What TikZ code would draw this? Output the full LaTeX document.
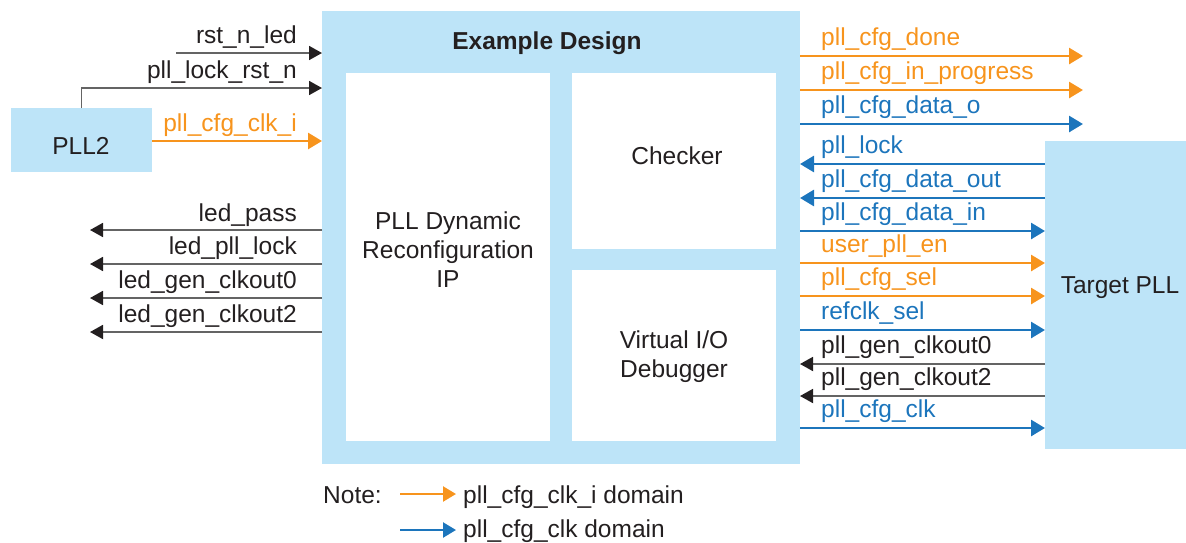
\documentclass[tikz,border=0pt]{standalone}
\usepackage{fontspec}
\setmainfont{Liberation Sans}
\usetikzlibrary{arrows.meta}

\definecolor{boxblue}{RGB}{189,228,248}
\definecolor{sigorange}{RGB}{247,148,29}
\definecolor{sigblue}{RGB}{28,117,188}
\definecolor{sigblack}{RGB}{35,31,32}
\definecolor{wiregray}{RGB}{100,100,100}

\begin{document}
\begin{tikzpicture}[x=1pt,y=-1pt,
  font=\fontsize{24.5}{29}\selectfont,
  box/.style={fill=boxblue, draw=none, inner sep=0pt, outer sep=0pt, anchor=north west},
  innerbox/.style={fill=white, draw=none, inner sep=0pt, outer sep=0pt, anchor=north west},
  txt/.style={inner sep=0pt, text=sigblack},
  lbl/.style={inner sep=0pt},
  blk/.style={draw=wiregray, line width=1.8pt, -{Triangle[length=13pt,width=14pt,color=sigblack]}},
  org/.style={draw=sigorange, line width=2.8pt, -{Triangle[length=14pt,width=16pt]}},
  blu/.style={draw=sigblue, line width=2.8pt, -{Triangle[length=14pt,width=16pt]}},
  keyorg/.style={draw=sigorange, line width=2.3pt, -{Triangle[length=13pt,width=15pt]}},
  keyblu/.style={draw=sigblue, line width=2.3pt, -{Triangle[length=13pt,width=15pt]}},
]
\useasboundingbox (0,0) rectangle (1186,542);

% blocks
\node[box, minimum width=478pt, minimum height=453pt] (ed) at (322,11) {};
\node[innerbox, minimum width=204pt, minimum height=368pt] (pdr) at (346,73) {};
\node[innerbox, minimum width=204pt, minimum height=176pt] (chk) at (572,73) {};
\node[innerbox, minimum width=204pt, minimum height=171pt] (vio) at (572,270) {};
\node[box, minimum width=141pt, minimum height=64pt] (pll2) at (11,108) {};
\node[box, minimum width=141pt, minimum height=308pt] (tpll) at (1045,141) {};

% block titles
\node[txt, anchor=base] (edt) at (547,49) {\bfseries Example Design};
\node[txt, anchor=base] (pdr1) at (448,229) {PLL Dynamic};
\node[txt, anchor=base] (pdr2) at (448,258) {Reconfiguration};
\node[txt, anchor=base] (pdr3) at (448,287) {IP};
\node[txt, anchor=base] (chkt) at (677,164) {Checker};
\node[txt, anchor=base] (vio1) at (674,348) {Virtual I/O};
\node[txt, anchor=base] (vio2) at (674,377) {Debugger};
\node[txt, anchor=base] (pll2t) at (81,154) {PLL2};
\node[txt, anchor=base] (tpllt) at (1120,293) {Target PLL};

% inputs on the left
\coordinate (rstsrc) at (176,53);
\draw[blk] (rstsrc) -- (rstsrc -| ed.west);
\node[lbl, anchor=base east, text=sigblack] (l1) at (297,43) {rst\_n\_led};

\coordinate (lockrow) at (0,88);
\draw[blk] (pll2.north) |- (lockrow -| ed.west);
\node[lbl, anchor=base east, text=sigblack] (l2) at (297,78) {pll\_lock\_rst\_n};

\coordinate (clkrow) at (0,141);
\draw[org] (clkrow -| pll2.east) -- (clkrow -| ed.west);
\node[lbl, anchor=base east, text=sigorange] (l3) at (297,131) {pll\_cfg\_clk\_i};

% LED outputs on the left
\coordinate (ledA) at (90,230);
\coordinate (ledB) at (90,264);
\coordinate (ledC) at (90,298);
\coordinate (ledD) at (90,332);
\draw[blk] (ledA -| ed.west) -- (ledA);
\draw[blk] (ledB -| ed.west) -- (ledB);
\draw[blk] (ledC -| ed.west) -- (ledC);
\draw[blk] (ledD -| ed.west) -- (ledD);
\node[lbl, anchor=base east, text=sigblack] (l4) at (297,221) {led\_pass};
\node[lbl, anchor=base east, text=sigblack] (l5) at (297,254) {led\_pll\_lock};
\node[lbl, anchor=base east, text=sigblack] (l6) at (297,288) {led\_gen\_clkout0};
\node[lbl, anchor=base east, text=sigblack] (l7) at (297,322) {led\_gen\_clkout2};

% status outputs on the right
\coordinate (outA) at (1083,56);
\coordinate (outB) at (1083,90);
\coordinate (outC) at (1083,124);
\draw[org] (outA -| ed.east) -- (outA);
\draw[org] (outB -| ed.east) -- (outB);
\draw[blu] (outC -| ed.east) -- (outC);
\node[lbl, anchor=base west, text=sigorange] (r1) at (821,45) {pll\_cfg\_done};
\node[lbl, anchor=base west, text=sigorange] (r2) at (821,79) {pll\_cfg\_in\_progress};
\node[lbl, anchor=base west, text=sigblue] (r3) at (821,113) {pll\_cfg\_data\_o};

% signals to and from the target PLL
\coordinate (tA) at (0,164);
\coordinate (tB) at (0,198);
\coordinate (tC) at (0,231);
\coordinate (tD) at (0,263);
\coordinate (tE) at (0,296);
\coordinate (tF) at (0,330);
\coordinate (tG) at (0,364);
\coordinate (tH) at (0,396);
\coordinate (tI) at (0,428);
\draw[blu] (tA -| tpll.west) -- (tA -| ed.east);
\draw[blu] (tB -| tpll.west) -- (tB -| ed.east);
\draw[blu] (tC -| ed.east) -- (tC -| tpll.west);
\draw[org] (tD -| ed.east) -- (tD -| tpll.west);
\draw[org] (tE -| ed.east) -- (tE -| tpll.west);
\draw[blu] (tF -| ed.east) -- (tF -| tpll.west);
\draw[blk] (tG -| tpll.west) -- (tG -| ed.east);
\draw[blk] (tH -| tpll.west) -- (tH -| ed.east);
\draw[blu] (tI -| ed.east) -- (tI -| tpll.west);
\node[lbl, anchor=base west, text=sigblue] (r4) at (821,153) {pll\_lock};
\node[lbl, anchor=base west, text=sigblue] (r5) at (821,187) {pll\_cfg\_data\_out};
\node[lbl, anchor=base west, text=sigblue] (r6) at (821,220) {pll\_cfg\_data\_in};
\node[lbl, anchor=base west, text=sigorange] (r7) at (821,252) {user\_pll\_en};
\node[lbl, anchor=base west, text=sigorange] (r8) at (821,285) {pll\_cfg\_sel};
\node[lbl, anchor=base west, text=sigblue] (r9) at (821,319) {refclk\_sel};
\node[lbl, anchor=base west, text=sigblack] (r10) at (821,353) {pll\_gen\_clkout0};
\node[lbl, anchor=base west, text=sigblack] (r11) at (821,385) {pll\_gen\_clkout2};
\node[lbl, anchor=base west, text=sigblue] (r12) at (821,417) {pll\_cfg\_clk};

% key
\node[lbl, anchor=base west, text=sigblack] (note) at (323,503) {Note:};
\coordinate (kA0) at (400,494);
\coordinate (kA1) at (456,494);
\coordinate (kB0) at (400,530);
\coordinate (kB1) at (456,530);
\draw[keyorg] (kA0) -- (kA1);
\draw[keyblu] (kB0) -- (kB1);
\node[lbl, anchor=base west, text=sigblack] (k1) at (463,503) {pll\_cfg\_clk\_i domain};
\node[lbl, anchor=base west, text=sigblack] (k2) at (463,537) {pll\_cfg\_clk domain};
\end{tikzpicture}
\end{document}
